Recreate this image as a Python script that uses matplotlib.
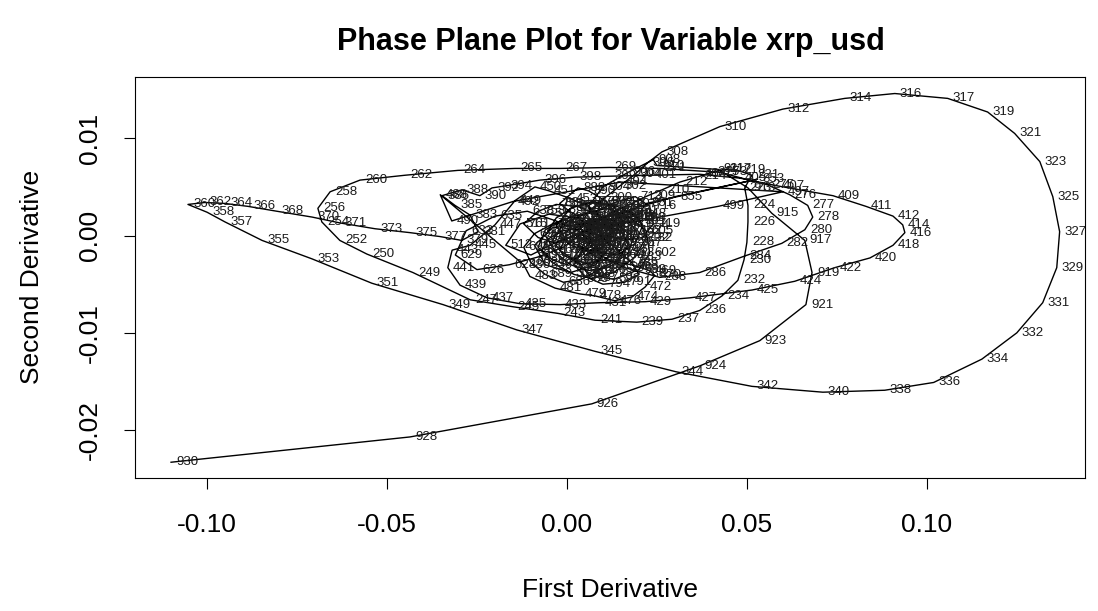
import matplotlib
matplotlib.use("Agg")
import matplotlib.pyplot as plt
from matplotlib.transforms import offset_copy

plt.rcParams['font.family'] = ['Liberation Sans', 'DejaVu Sans']

# (observation, first derivative, second derivative), in time order
seg_early = [
    (140, 0.0040, 0.0010), (142, 0.0080, 0.0020), (143, 0.0130, 0.0015),
    (145, 0.0170, 0.0002), (147, 0.0150, -0.0015), (148, 0.0100, -0.0025),
    (150, 0.0040, -0.0030), (152, -0.0010, -0.0020), (153, -0.0040, -0.0005),
    (155, -0.0010, 0.0012), (157, 0.0050, 0.0022), (158, 0.0110, 0.0028),
    (160, 0.0160, 0.0022), (162, 0.0190, 0.0005), (163, 0.0170, -0.0018),
    (165, 0.0120, -0.0032), (167, 0.0060, -0.0036), (168, 0.0010, -0.0030),
    (170, -0.0030, -0.0018), (172, -0.0060, 0.0000), (173, -0.0030, 0.0018),
    (175, 0.0020, 0.0030), (177, 0.0080, 0.0034), (178, 0.0140, 0.0030),
    (180, 0.0200, 0.0018), (182, 0.0220, -0.0002), (183, 0.0190, -0.0022),
    (185, 0.0130, -0.0038), (187, 0.0070, -0.0044), (188, 0.0020, -0.0040),
    (190, -0.0040, -0.0028), (192, -0.0080, -0.0012), (193, -0.0060, 0.0006),
    (195, -0.0010, 0.0016), (197, 0.0040, 0.0012), (198, 0.0070, 0.0004),
    (199, 0.0050, -0.0004),
]
seg_200s = [
    (200, 0.0022, -0.0003), (202, 0.0064, 0.0008), (203, 0.0092, 0.0016),
    (205, 0.0125, 0.0024), (207, 0.0175, 0.0032), (209, 0.0225, 0.0041),
    (210, 0.0264, 0.0047), (212, 0.0314, 0.0055), (214, 0.0369, 0.0061),
    (215, 0.0403, 0.0065), (217, 0.0436, 0.0068), (219, 0.0475, 0.0067),
    (221, 0.0514, 0.0062), (223, 0.0494, 0.0049), (224, 0.0503, 0.0031),
    (226, 0.0503, 0.0014), (228, 0.0500, -0.0007), (230, 0.0492, -0.0025),
    (232, 0.0475, -0.0046), (234, 0.0431, -0.0062), (236, 0.0369, -0.0077),
    (237, 0.0292, -0.0086), (239, 0.0194, -0.0089), (241, 0.0078, -0.0087),
    (243, -0.0025, -0.0080), (245, -0.0153, -0.0073), (247, -0.0269, -0.0066),
    (249, -0.0428, -0.0038), (250, -0.0556, -0.0019), (252, -0.0631, -0.0005),
    (254, -0.0681, 0.0014), (256, -0.0692, 0.0028), (258, -0.0658, 0.0045),
    (260, -0.0575, 0.0057), (262, -0.0450, 0.0062), (264, -0.0303, 0.0067),
    (265, -0.0144, 0.0069),
]
seg_270s = [
    (267, -0.0019, 0.0069), (269, 0.0119, 0.0070), (271, 0.0258, 0.0069),
    (273, 0.0425, 0.0065), (275, 0.0558, 0.0052), (276, 0.0619, 0.0042),
    (277, 0.0669, 0.0031), (278, 0.0683, 0.0019), (280, 0.0661, 0.0006),
    (282, 0.0597, -0.0008), (284, 0.0494, -0.0021), (286, 0.0369, -0.0038),
    (288, 0.0258, -0.0043), (290, 0.0161, -0.0033), (292, 0.0092, -0.0020),
    (294, 0.0050, -0.0005), (296, 0.0036, 0.0011), (298, 0.0064, 0.0026),
    (300, 0.0106, 0.0039), (302, 0.0147, 0.0051), (304, 0.0189, 0.0063),
    (306, 0.0225, 0.0075), (308, 0.0264, 0.0086),
]
seg_300s = [
    (310, 0.0425, 0.0112), (312, 0.0600, 0.0130), (314, 0.0772, 0.0141),
    (316, 0.0911, 0.0146), (317, 0.1058, 0.0141), (319, 0.1169, 0.0127),
    (321, 0.1244, 0.0105), (323, 0.1314, 0.0076), (325, 0.1350, 0.0040),
    (327, 0.1369, 0.0004), (329, 0.1361, -0.0033), (331, 0.1322, -0.0069),
    (332, 0.1250, -0.0100), (334, 0.1153, -0.0127), (336, 0.1019, -0.0151),
    (338, 0.0883, -0.0159), (340, 0.0711, -0.0161), (342, 0.0514, -0.0155),
    (344, 0.0303, -0.0140), (345, 0.0078, -0.0119), (347, -0.0139, -0.0097),
    (349, -0.0344, -0.0071), (351, -0.0542, -0.0049), (353, -0.0708, -0.0024),
    (355, -0.0847, -0.0005), (357, -0.0950, 0.0014), (358, -0.1000, 0.0024),
    (360, -0.1053, 0.0032), (362, -0.1006, 0.0034), (364, -0.0950, 0.0033),
    (366, -0.0886, 0.0030), (368, -0.0806, 0.0025), (370, -0.0708, 0.0019),
    (371, -0.0631, 0.0013), (373, -0.0533, 0.0007), (375, -0.0436, 0.0003),
]
seg_380s = [
    (377, -0.0353, -0.0001), (379, -0.0292, -0.0005), (381, -0.0247, 0.0004),
    (383, -0.0269, 0.0021), (385, -0.0311, 0.0031), (386, -0.0347, 0.0041),
    (388, -0.0292, 0.0047), (390, -0.0242, 0.0041), (392, -0.0208, 0.0049),
    (394, -0.0172, 0.0051), (396, -0.0075, 0.0057), (398, 0.0022, 0.0060),
    (399, 0.0119, 0.0061), (401, 0.0231, 0.0062), (403, 0.0369, 0.0063),
    (405, 0.0481, 0.0059), (407, 0.0586, 0.0051),
]
seg_400s = [
    (409, 0.0739, 0.0041), (411, 0.0831, 0.0030), (412, 0.0906, 0.0020),
    (414, 0.0933, 0.0011), (416, 0.0939, 0.0003), (418, 0.0906, -0.0010),
    (420, 0.0842, -0.0023), (422, 0.0744, -0.0033), (424, 0.0633, -0.0047),
    (425, 0.0514, -0.0056), (427, 0.0342, -0.0064), (429, 0.0217, -0.0068),
    (431, 0.0092, -0.0069), (433, -0.0019, -0.0071), (435, -0.0131, -0.0070),
    (437, -0.0222, -0.0064), (439, -0.0297, -0.0051), (441, -0.0331, -0.0033),
    (443, -0.0319, -0.0015), (445, -0.0269, -0.0010), (447, -0.0200, 0.0011),
    (449, -0.0144, 0.0036), (450, -0.0089, 0.0050),
]
seg_460s = [
    (451, -0.0050, 0.0046), (453, 0.0010, 0.0038), (455, 0.0060, 0.0030),
    (457, 0.0100, 0.0018), (459, 0.0120, 0.0004), (461, 0.0105, -0.0010),
    (463, 0.0070, -0.0018), (465, 0.0040, -0.0012), (467, 0.0095, -0.0025),
    (468, 0.0180, -0.0030), (469, 0.0230, -0.0036), (470, 0.0244, -0.0041),
    (472, 0.0217, -0.0053), (474, 0.0181, -0.0063), (476, 0.0133, -0.0067),
    (478, 0.0078, -0.0062), (479, 0.0036, -0.0060), (481, -0.0033, -0.0054),
    (483, -0.0103, -0.0042),
]
seg_core = [
    (486, -0.0120, -0.0030), (488, -0.0352, 0.0042), (490, -0.0320, 0.0015),
    (492, -0.0150, 0.0035), (494, 0.0150, 0.0055), (497, 0.0600, 0.0045),
    (499, 0.0420, 0.0030), (501, 0.0200, 0.0015), (503, 0.0080, 0.0008),
    (506, -0.0020, -0.0005), (509, -0.0100, -0.0020), (512, -0.0170, -0.0010),
    (515, -0.0130, 0.0012), (518, -0.0050, 0.0022), (521, 0.0030, 0.0018),
    (524, 0.0090, 0.0005), (527, 0.0120, -0.0012), (530, 0.0080, -0.0030),
    (533, 0.0010, -0.0038), (536, -0.0060, -0.0030), (539, -0.0090, -0.0010),
    (542, -0.0040, 0.0008), (545, 0.0040, 0.0012), (548, 0.0110, 0.0020),
    (551, 0.0180, 0.0025), (554, 0.0210, 0.0010), (557, 0.0190, -0.0008),
    (560, 0.0140, -0.0020), (563, 0.0060, -0.0015), (566, 0.0000, -0.0005),
    (569, -0.0030, 0.0010), (572, 0.0010, 0.0028), (575, 0.0070, 0.0035),
    (578, 0.0130, 0.0030), (581, 0.0160, 0.0012), (584, 0.0110, -0.0002),
    (587, 0.0050, -0.0008), (590, 0.0020, -0.0022), (593, 0.0060, -0.0040),
    (596, 0.0130, -0.0045), (599, 0.0200, -0.0035), (602, 0.0230, -0.0018),
    (605, 0.0220, 0.0005), (608, 0.0170, 0.0020), (611, 0.0090, 0.0015),
    (614, 0.0040, 0.0002), (617, -0.0010, -0.0012), (620, -0.0080, -0.0022),
    (623, -0.0160, -0.0030), (626, -0.0250, -0.0035), (629, -0.0310, -0.0020),
    (632, -0.0280, 0.0005), (635, -0.0200, 0.0020), (638, -0.0110, 0.0025),
    (641, -0.0030, 0.0015), (644, 0.0030, 0.0005), (647, 0.0070, -0.0008),
    (650, 0.0100, -0.0020), (653, 0.0070, -0.0030), (656, 0.0020, -0.0025),
    (659, -0.0020, -0.0015), (662, 0.0000, 0.0000), (665, 0.0050, 0.0010),
    (668, 0.0100, 0.0012), (671, 0.0150, 0.0005), (674, 0.0170, -0.0010),
    (677, 0.0140, -0.0025), (680, 0.0090, -0.0035), (683, 0.0040, -0.0045),
    (686, -0.0010, -0.0048), (689, -0.0060, -0.0040), (692, -0.0100, -0.0028),
    (695, -0.0120, -0.0012), (698, -0.0090, 0.0002), (701, -0.0040, 0.0012),
    (704, 0.0020, 0.0020), (707, 0.0080, 0.0025), (710, 0.0140, 0.0035),
    (713, 0.0190, 0.0040), (716, 0.0230, 0.0030), (719, 0.0240, 0.0012),
    (722, 0.0210, -0.0002), (725, 0.0160, -0.0005), (728, 0.0110, 0.0000),
    (731, 0.0060, -0.0003), (734, 0.0030, -0.0010), (737, 0.0050, -0.0020),
    (740, 0.0100, -0.0012), (743, 0.0130, 0.0000), (746, 0.0120, 0.0015),
    (749, 0.0080, 0.0022), (752, 0.0030, 0.0030), (755, -0.0030, 0.0032),
    (758, -0.0080, 0.0025), (761, -0.0120, 0.0012), (764, -0.0080, -0.0002),
    (767, -0.0030, -0.0008), (770, 0.0010, -0.0002), (773, 0.0050, 0.0005),
    (776, 0.0090, 0.0000), (779, 0.0120, -0.0008), (782, 0.0150, -0.0018),
    (785, 0.0180, -0.0028), (788, 0.0200, -0.0040), (791, 0.0160, -0.0048),
    (794, 0.0100, -0.0050), (797, 0.0050, -0.0042), (800, 0.0020, -0.0030),
    (803, 0.0040, -0.0018), (806, 0.0070, -0.0010), (809, 0.0060, 0.0003),
    (812, 0.0030, 0.0008), (815, -0.0010, 0.0005), (818, -0.0050, -0.0003),
    (821, -0.0070, -0.0015), (824, -0.0040, -0.0025), (827, 0.0000, -0.0030),
    (830, 0.0030, -0.0022), (833, 0.0050, -0.0012), (836, 0.0080, -0.0004),
    (839, 0.0110, 0.0005), (842, 0.0140, 0.0012), (845, 0.0170, 0.0018),
    (848, 0.0200, 0.0022), (851, 0.0220, 0.0033), (853, 0.0530, 0.0058),
    (855, 0.0300, 0.0040), (857, 0.0160, 0.0025), (860, 0.0080, 0.0015),
    (863, 0.0020, 0.0008), (866, -0.0020, 0.0000), (869, 0.0010, -0.0010),
    (872, 0.0060, -0.0016), (875, 0.0100, -0.0008), (878, 0.0090, 0.0006),
    (881, 0.0050, 0.0016), (884, 0.0010, 0.0024), (886, -0.0020, 0.0033),
    (888, 0.0031, 0.0049), (890, 0.0060, 0.0046), (892, 0.0110, 0.0035),
    (895, 0.0140, 0.0020), (898, 0.0120, 0.0008), (900, 0.0080, 0.0012),
    (902, 0.0060, 0.0030), (904, 0.0100, 0.0050), (906, 0.0170, 0.0065),
    (908, 0.0240, 0.0078),
]
seg_900s = [
    (910, 0.0250, 0.0072), (911, 0.0420, 0.0068), (913, 0.0503, 0.0049),
    (915, 0.0569, 0.0023), (917, 0.0661, -0.0005), (919, 0.0681, -0.0038),
    (921, 0.0664, -0.0071), (923, 0.0536, -0.0108), (924, 0.0369, -0.0134),
    (926, 0.0069, -0.0173), (928, -0.0436, -0.0207), (930, -0.1100, -0.0233),
]

x_ticks = [-0.10, -0.05, 0.00, 0.05, 0.10]
y_ticks = [-0.02, -0.01, 0.00, 0.01]

path = (seg_early + seg_200s + seg_270s + seg_300s + seg_380s + seg_400s
        + seg_460s + seg_core + seg_900s)
obs = [p[0] for p in path]
d1 = [p[1] for p in path]
d2 = [p[2] for p in path]

fig = plt.figure(figsize=(10.98, 6.11), dpi=100)
ax = fig.add_axes([0.123, 0.218, 0.865, 0.656])

ax.plot(d1, d2, color='black', lw=1.0)
lab_tr = offset_copy(ax.transData, fig=fig, x=5, y=0, units='dots')
for o, a, b in zip(obs, d1, d2):
    ax.text(a, b, str(o), transform=lab_tr, fontsize=9.5, color='#1a1a1a',
            ha='left', va='center', clip_on=True)

ax.set_xlim(-0.1200, 0.1439)
ax.set_ylim(-0.0249, 0.0163)
ax.set_xticks(x_ticks)
ax.set_xticklabels(['%.2f' % v for v in x_ticks])
ax.set_yticks(y_ticks)
ax.set_yticklabels(['%.2f' % v for v in y_ticks], rotation=90, va='center')
ax.tick_params(direction='out', length=8, width=0.8, labelsize=19)
ax.tick_params(axis='x', pad=17)
ax.tick_params(axis='y', pad=16)
for s in ax.spines.values():
    s.set_linewidth(0.8)

ax.set_xlabel('First Derivative', fontsize=19, labelpad=30)
ax.set_ylabel('Second Derivative', fontsize=19, labelpad=24)
fig.text(0.556, 0.932, 'Phase Plane Plot for Variable xrp_usd', fontsize=22,
         fontweight='bold', ha='center', va='center')

fig.savefig('out.png', dpi=100)
